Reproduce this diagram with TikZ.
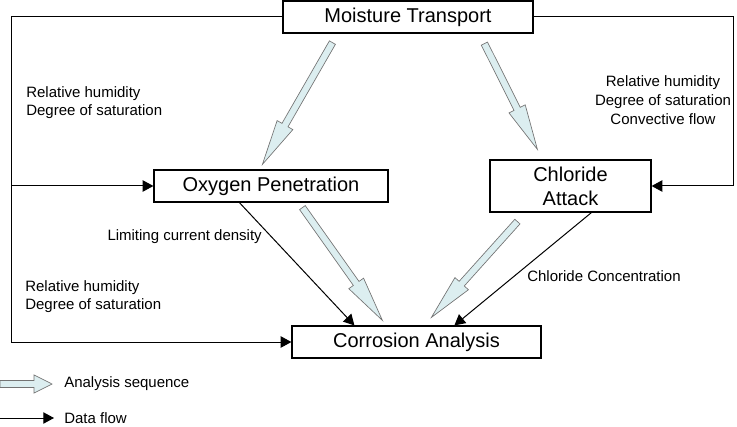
\documentclass[tikz,border=0pt]{standalone}
\usepackage{fontspec}
\setmainfont{Liberation Sans}
\usetikzlibrary{arrows.meta,calc}

\definecolor{seqfill}{RGB}{220,238,240}

% hollow arrow: [head length]{from}{to}
\newcommand{\seqarrow}[3][34pt]{%
  \coordinate (sqh) at ($(#3)!#1!(#2)$);
  \filldraw[seqline] ($(#2)!2.6pt!90:(#3)$) -- ($(sqh)!2.6pt!-90:(#2)$) -- ($(sqh)!6.8pt!-90:(#2)$) -- (#3)
    -- ($(sqh)!6.8pt!90:(#2)$) -- ($(sqh)!2.6pt!90:(#2)$) -- ($(#2)!2.6pt!-90:(#3)$) -- cycle;
}

\begin{document}
\begin{tikzpicture}[x=0.75pt, y=-0.75pt,
  box/.style={draw, line width=0.9pt, inner sep=0pt, align=center, font=\fontsize{15}{18}\selectfont},
  lbl/.style={inner sep=0pt, font=\fontsize{11.25}{13.5}\selectfont},
  flow/.style={line width=0.75pt, -{Triangle[length=8pt,width=8.5pt]}},
  seqline/.style={draw=black!55, line width=0.5pt, fill=seqfill}]
\useasboundingbox (0,0) rectangle (737,427);

% boxes
\node[box, minimum width=187.5pt, minimum height=24pt] (mt) at (408,17) {Moisture Transport};
\node[box, minimum width=175.5pt, minimum height=24pt] (op) at (271,186) {Oxygen Penetration};
\node[box, minimum width=120.75pt, minimum height=39pt] (ca) at (570.5,186) {Chloride\\Attack};
\node[box, minimum width=186.75pt, minimum height=24pt] (cr) at (416.5,342) {Corrosion Analysis};

% data flow from moisture transport
\coordinate (lc) at (11,17);
\coordinate (rc) at (733,17);
\draw[flow] (mt.west) -- (lc) |- (cr.west);
\draw[flow] (lc |- op.west) -- (op.west);
\draw[flow] (mt.east) -- (rc) |- (ca.east);

% data flow into corrosion analysis
\draw[flow] ($(op.south west)+(86,0)$) -- ($(cr.north west)+(63,0)$);
\draw[flow] ($(ca.south west)+(102,0)$) -- ($(cr.north west)+(163,0)$);

% analysis sequence
\coordinate (a1) at ($(mt.south west)+(50,9)$);
\coordinate (b1) at ($(op.north west)+(109,-5)$);
\coordinate (a2) at ($(mt.south west)+(202,10)$);
\coordinate (b2) at ($(ca.north west)+(48,-10)$);
\coordinate (a3) at ($(op.south west)+(149,5)$);
\coordinate (b3) at ($(cr.north west)+(91,-5)$);
\coordinate (a4) at ($(ca.south west)+(28,9)$);
\coordinate (b4) at ($(cr.north west)+(140,-8)$);
\seqarrow{a1}{b1}
\seqarrow{a2}{b2}
\seqarrow{a3}{b3}
\seqarrow{a4}{b4}

% labels
\node[lbl, align=left, anchor=west] (lh1) at (26,103) {Relative humidity\\Degree of saturation};
\node[lbl, align=center, font=\fontsize{11.25}{14.25}\selectfont] (lh2) at (663,100) {Relative humidity\\Degree of saturation\\Convective flow};
\node[lbl, anchor=east] (lcd) at (262,237) {Limiting current density};
\node[lbl, align=left, anchor=west] (lh3) at (25,297) {Relative humidity\\Degree of saturation};
\node[lbl, anchor=west] (lcc) at (527,276) {Chloride Concentration};

% legend
\node[lbl, anchor=west] (lgs) at (64,384) {Analysis sequence};
\node[lbl, anchor=west] (lgd) at (64,418) {Data flow};
\coordinate (ls) at (0,384);
\coordinate (le) at ($(lgs.west)+(-12,0)$);
\seqarrow[13.5pt]{ls}{le}
\coordinate (ds) at (0,418);
\draw[flow] (ds) -- ($(lgd.west)+(-10,0)$);
\end{tikzpicture}
\end{document}
